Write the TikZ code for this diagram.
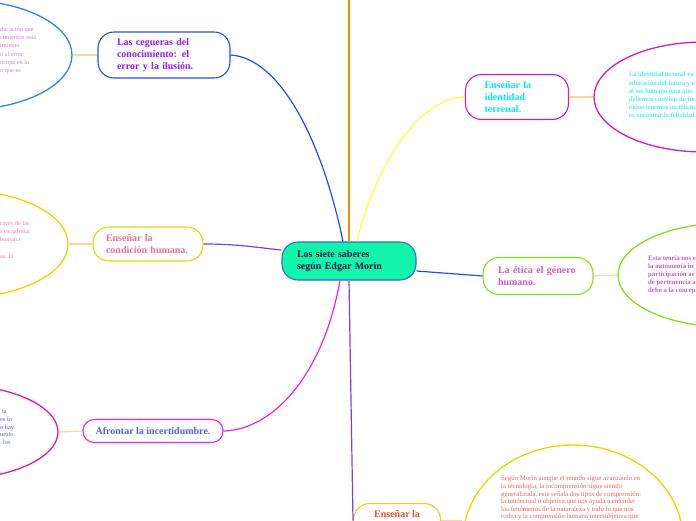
\documentclass[tikz,border=0pt]{standalone}
\usepackage{fontspec}
\setmainfont{Liberation Serif}
\usetikzlibrary{shapes, arrows.meta, positioning, calc}
\definecolor{rootfill}{RGB}{18, 244, 170}
\definecolor{rootline}{RGB}{43, 111, 208}
\definecolor{rootink}{RGB}{16, 24, 72}
\definecolor{linkblue}{RGB}{30, 80, 232}
\definecolor{linkpurple}{RGB}{122, 63, 240}
\definecolor{linkmagenta}{RGB}{240, 32, 240}
\definecolor{linkyellow}{RGB}{255, 255, 64}
\definecolor{linkorange}{RGB}{255, 140, 0}
\definecolor{twigorange}{RGB}{255, 214, 150}
\definecolor{bubblue}{RGB}{43, 138, 208}
\definecolor{bubyellow}{RGB}{232, 214, 0}
\definecolor{bubmagenta}{RGB}{216, 24, 184}
\definecolor{bubgreen}{RGB}{128, 224, 32}
\definecolor{inkviolet}{RGB}{155, 27, 250}
\definecolor{inkpink}{RGB}{240, 112, 154}
\definecolor{inkblue}{RGB}{80, 96, 240}
\definecolor{inkcyan}{RGB}{0, 236, 236}
\definecolor{inkorchid}{RGB}{196, 96, 196}
\definecolor{inkred}{RGB}{240, 80, 48}
\definecolor{notelilac}{RGB}{204, 130, 214}
\definecolor{notepink}{RGB}{240, 128, 176}
\definecolor{notered}{RGB}{240, 96, 96}

\begin{document}
\begin{tikzpicture}[x=1pt, y=-1pt,
    topic/.style={draw, line width=1.1pt, fill=white, rounded corners=16pt, align=left,
        font=\bfseries\fontsize{10}{12}\selectfont, inner ysep=0pt},
    bubble/.style={ellipse, draw, line width=1.3pt, inner sep=0pt, minimum width=220},
    notetext/.style={anchor=north west, inner sep=0pt, align=left, font=\fontsize{6.8}{8.2}\selectfont},
    link/.style={line width=1.2pt},
    twig/.style={line width=1.2pt, twigorange}]
    \useasboundingbox (0, 0) rectangle (696, 520);
    \clip (0, 0) rectangle (696, 520);

    % Central topic
    \node[topic, draw=rootline, fill=rootfill, text=rootink, minimum width=134, minimum height=38,
        inner xsep=15, text width=104] (root) at (349, 261) {Los siete saberes\\según Edgar Morin};

    % Main topics
    \node[topic, draw=linkblue, text=inkviolet, minimum width=132, minimum height=46,
        inner xsep=19, text width=94] (cegueras) at (164, 55) {Las cegueras del\\conocimiento: el\\error y la ilusión.};
    \node[topic, draw=bubyellow, text=inkpink, minimum width=110, minimum height=34,
        inner xsep=13, text width=84] (condicion) at (148, 244) {Enseñar la\\condición humana.};
    \node[topic, draw=linkmagenta, text=inkblue, minimum width=140, minimum height=23,
        rounded corners=11pt, align=center] (afrontar) at (153, 431) {Afrontar la incertidumbre.};
    \node[topic, draw=bubmagenta, text=inkcyan, minimum width=103, minimum height=45,
        inner xsep=19, text width=65] (identidad) at (517, 97) {Enseñar la\\identidad\\terrenal.};
    \node[topic, draw=bubgreen, text=inkorchid, minimum width=110, minimum height=37,
        inner xsep=15, text width=80] (etica) at (538, 276) {La ética el género\\humano.};
    \node[topic, draw=bubyellow, text=inkred, minimum width=87, inner xsep=15, inner ysep=6,
        text height=8, text depth=14, anchor=north west] (comprension) at (353, 503) {Enseñar la};

    % Notes
    \node[bubble, draw=bubblue, minimum height=110] (n1) at (-38, 55) {};
    \node[bubble, draw=bubyellow, minimum height=108] (n2) at (-42, 244) {};
    \node[bubble, draw=bubmagenta, minimum height=96] (n3) at (-52, 432) {};
    \node[bubble, draw=bubmagenta, minimum height=110] (n4) at (704, 97) {};
    \node[bubble, draw=bubgreen, minimum height=104] (n5) at (728, 275) {};
    \node[bubble, draw=bubyellow, minimum height=190] (n6) at (573, 540) {};

    \node[notetext, text=notelilac, font=\fontsize{6.3}{8.2}\selectfont] (t1) at (0, 27) {ducación que\\cimientos esta\\imiento\\o al error\\ocupa en lo\\o que es};
    \node[notetext, text=notepink, font=\fontsize{6.3}{8.2}\selectfont] (t2) at (0, 221) {ravés de las\\s escudriñar\\humana\\[8.2pt]as, la};
    \node[notetext, text=inkblue, font=\fontsize{6.3}{7.8}\selectfont] (t3) at (0, 409) {\hspace{2pt}la\\es lo\\o hay\\uesto\\\hspace{3pt}los};
    \node[notetext, text=inkcyan] (t4) at (629, 72) {La identidad terrenal es\\educación del futuro y e\\al ser humano para que\\debemos convivir de for\\todos tenemos un mismo\\es encontrar la felicidad};
    \node[notetext, text=inkorchid, font=\bfseries\fontsize{6.8}{7.8}\selectfont] (t5) at (648, 256) {Esta teoría nos e\\la autonomía in\\participación ar\\de pertenencia a\\debe a la concep};
    \node[notetext, text=notered, font=\fontsize{6.8}{7.6}\selectfont] (t6) at (501, 476) {Según Morin aunque el mundo sigue avanzando en\\la tecnología, la incomprensión sigue siendo\\generalizada, este señala dos tipos de comprensión:\\la intelectual u objetiva que nos ayuda a entender\\los fenómenos de la naturaleza y todo lo que nos\\rodea y la comprensión humana intersubjetiva que};

    % Branches from the centre
    \coordinate (up) at (349, -2);
    \draw[link, linkorange] (root.north) -- (up);
    \draw[link, linkblue] ([xshift=-6pt]root.north) .. controls (322, 140) and (280, 58) .. (cegueras.east);
    \draw[link, linkyellow] ([xshift=8pt]root.north) .. controls (375, 165) and (420, 97) .. (identidad.west);
    \draw[link, linkpurple] ([yshift=11pt]root.west) .. controls (260, 248) and (240, 244) .. (condicion.east);
    \draw[link, linkblue] ([yshift=-10pt]root.east) .. controls (450, 273) .. (etica.west);
    \draw[link, linkmagenta] ([xshift=-9pt]root.south) .. controls (322, 380) and (270, 430) .. (afrontar.east);
    \draw[link, linkpurple] (root.south) -- (comprension.west);

    % Notes hang on their topics
    \draw[twig] (cegueras.west) -- (n1.east);
    \draw[twig] (condicion.west) -- (n2.east);
    \draw[twig] (afrontar.west) -- (n3.east);
    \draw[twig] (identidad.east) -- (n4.west);
    \draw[twig] (etica.east) -- (n5.west);
    \draw[twig] (comprension.east) -- (comprension.east -| n6.west);
\end{tikzpicture}
\end{document}
